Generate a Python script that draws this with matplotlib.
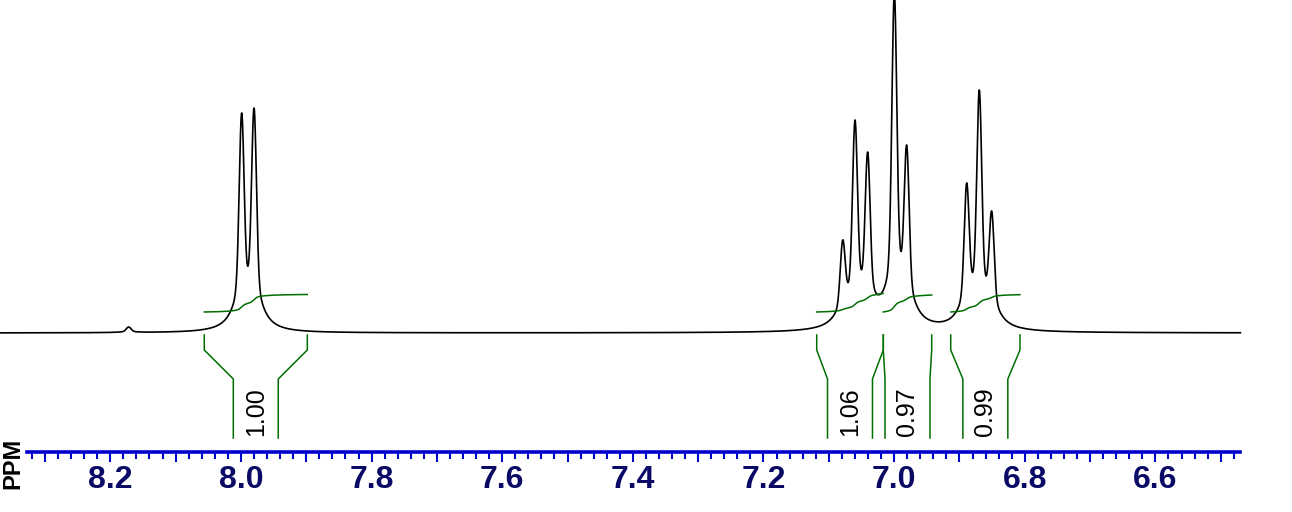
import numpy as np
import matplotlib
matplotlib.use("Agg")
import matplotlib.pyplot as plt
from matplotlib.ticker import MultipleLocator, FuncFormatter

# ---- data ----
# peak list: chemical shift (ppm) and apparent height above baseline
peak_ppm = [8.1719, 7.999, 7.980, 7.0791, 7.0603, 7.0409, 7.0001, 6.9812,
            6.8894, 6.8701, 6.8511]
peak_height = [6, 220, 225, 93, 213, 181, 340, 188, 150, 243, 122]

# integral regions (ppm) and integral values
int_start = [8.0562, 7.1189, 7.0170, 6.9138]
int_end = [7.8985, 7.0170, 6.9429, 6.8078]
int_value = [1.00, 1.06, 0.97, 0.99]
int_labels = ["1.00", "1.06", "0.97", "0.99"]

# ppm scale
scale_from, scale_to = 8.3275, 6.4705
view_from, view_to = 8.3688, 6.3915
tick_major = 0.1
tick_minor = 0.02

# ---- line shape (gaussian core + lorentzian base) ----
sigma = 0.0036
gamma = 0.0138
r_base = 0.2


def shape(d):
    return (1 - r_base) * np.exp(-d ** 2 / (2 * sigma ** 2)) + r_base / (1 + (d / gamma) ** 2)


pp = np.array(peak_ppm)
M = shape(pp[:, None] - pp[None, :])
amps = np.linalg.solve(M, np.array(peak_height, dtype=float))

x = np.linspace(view_from, scale_to, 6000)
y = np.zeros_like(x)
for p, a in zip(pp, amps):
    y += a * shape(x - p)

fig = plt.figure(figsize=(12.92, 5.12), dpi=100)
ax = fig.add_axes([0, 0, 1, 1])
ax.set_xlim(view_from, view_to)
ax.set_ylim(-179, 333)
ax.axis("off")

ax.plot(x, y, color="black", lw=1.2)

green = "#006e00"
hw = 0.0344
for s, e, v, lab in zip(int_start, int_end, int_value, int_labels):
    m = (x <= s) & (x >= e)
    xs = x[m]
    cs = np.cumsum(y[m])
    yi = 21 + v * 17.5 * cs / cs[-1]
    ax.plot(xs, yi, color=green, lw=1.1)
    mid = (s + e) / 2
    bl = min(s, mid + hw)
    br = max(e, mid - hw)
    ax.plot([s, s, bl, bl], [-2, -17, -46, -105], color=green, lw=1.1)
    ax.plot([e, e, br, br], [-2, -17, -46, -105], color=green, lw=1.1)
    ax.text(mid, -79, lab, rotation=90, ha="center", va="center",
            fontsize=18, family="Liberation Sans", color="black")

# ---- ppm scale ----
ax2 = fig.add_axes([27 / 1292, (512 - 452.3) / 512, (1240 - 27) / 1292, 0.001])
ax2.set_xlim(scale_from, scale_to)
ax2.patch.set_visible(False)
for k in ["top", "left", "right"]:
    ax2.spines[k].set_visible(False)
ax2.spines["bottom"].set_color("#0000cc")
ax2.spines["bottom"].set_linewidth(2.6)
ax2.set_yticks([])
ax2.xaxis.set_major_locator(MultipleLocator(tick_major))
ax2.xaxis.set_minor_locator(MultipleLocator(tick_minor))


def fmt(v, pos):
    k = int(round(v * 10))
    return f"{v:.1f}" if k % 2 == 0 else ""


ax2.xaxis.set_major_formatter(FuncFormatter(fmt))
ax2.tick_params(axis="x", which="major", direction="out", length=7, width=1.5,
                color="#0000cc", labelsize=23, labelcolor="#0a0a66", pad=2)
ax2.tick_params(axis="x", which="minor", direction="out", length=5, width=1.5,
                color="#0000cc")
for t in ax2.get_xticklabels():
    t.set_fontweight("bold")
    t.set_family("Liberation Sans")

fig.text(13 / 1292, 1 - 463 / 512, "PPM", rotation=90, ha="center", va="center",
         fontsize=17, fontweight="bold", family="Liberation Sans", color="black")

fig.savefig("out.png", dpi=100)
